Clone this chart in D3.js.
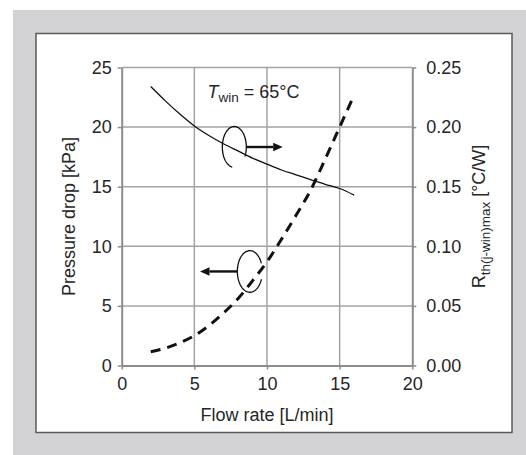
<!DOCTYPE html>
<html>
<head>
<meta charset="utf-8">
<script src="https://cdn.jsdelivr.net/npm/d3@7"></script>
<style>
  html, body { margin: 0; padding: 0; background: #ffffff; }
  svg { display: block; font-family: "Liberation Sans", Arial, sans-serif; }
</style>
</head>
<body>
<svg id="chart" width="526" height="455"></svg>
<script>
// Flow rate [L/min]
const flowRate = [2, 3, 4, 5, 6, 7, 8, 9, 10, 11, 12, 13, 14, 15, 16];
// Pressure drop [kPa] (left axis, dashed)
const pressureDrop = [1.15, 1.45, 1.9, 2.5, 3.35, 4.4, 5.6, 7.1, 8.7, 10.6, 12.6, 14.7, 17.3, 20.0, 22.7];
// Thermal resistance Rth(j-win)max [°C/W] (right axis, solid)
const rthMax = [0.234, 0.222, 0.211, 0.201, 0.193, 0.186, 0.180, 0.174, 0.169, 0.164, 0.160, 0.156, 0.152, 0.1485, 0.143];

const xTicks = [0, 5, 10, 15, 20];
const leftTicks = [0, 5, 10, 15, 20, 25];
const rightTicks = [0, 0.05, 0.10, 0.15, 0.20, 0.25];

const svg = d3.select("#chart");
const W = 526, H = 455;

// backdrop panel and framed figure box
svg.append("rect").attr("x", 13).attr("y", 10).attr("width", W - 13).attr("height", H - 10).attr("fill", "#d3d3d5");
svg.append("rect").attr("x", 36).attr("y", 33.5).attr("width", 476).attr("height", 399)
  .attr("fill", "#ffffff").attr("stroke", "#5a5a5a").attr("stroke-width", 1.5);

const plot = { left: 121.7, right: 412.3, top: 67.5, bottom: 365.5 };

const x = d3.scaleLinear().domain([0, 20]).range([plot.left, plot.right]);
const yL = d3.scaleLinear().domain([0, 25]).range([plot.bottom, plot.top]);
const yR = d3.scaleLinear().domain([0, 0.25]).range([plot.bottom, plot.top]);

const gridColor = "#a3a3a3";
const axisColor = "#8c8c8c";
const textColor = "#262626";
const fs = 18;

// gridlines
const grid = svg.append("g");
grid.selectAll("line.v").data(xTicks.filter(d => d > 0 && d < 20)).join("line")
  .attr("x1", d => x(d)).attr("x2", d => x(d))
  .attr("y1", yL(0)).attr("y2", yL(25))
  .attr("stroke", gridColor).attr("stroke-width", 1.5);
grid.selectAll("line.h").data(leftTicks.filter(d => d > 0)).join("line")
  .attr("x1", x(0)).attr("x2", x(20))
  .attr("y1", d => yL(d)).attr("y2", d => yL(d))
  .attr("stroke", gridColor).attr("stroke-width", 1.5);

function styleAxis(g) {
  g.select(".domain").attr("stroke", axisColor).attr("stroke-width", 2);
  g.selectAll(".tick line").attr("stroke", axisColor).attr("stroke-width", 1.5);
  g.selectAll(".tick text").attr("fill", textColor).attr("font-size", fs);
}

svg.append("g").attr("transform", `translate(0,${plot.bottom})`)
  .call(d3.axisBottom(x).tickValues(xTicks).tickSize(4).tickSizeOuter(0).tickPadding(8))
  .call(styleAxis);
svg.append("g").attr("transform", `translate(${plot.left},0)`)
  .call(d3.axisLeft(yL).tickValues(leftTicks).tickSize(4).tickSizeOuter(0).tickPadding(6))
  .call(styleAxis);
svg.append("g").attr("transform", `translate(${plot.right},0)`)
  .call(d3.axisRight(yR).tickValues(rightTicks).tickFormat(d3.format(".2f")).tickSize(4).tickSizeOuter(0).tickPadding(10))
  .call(styleAxis);

// axis titles
svg.append("text").attr("x", (plot.left + plot.right) / 2).attr("y", 421)
  .attr("text-anchor", "middle").attr("font-size", fs).attr("fill", textColor)
  .text("Flow rate [L/min]");
svg.append("text").attr("transform", `translate(75,${(plot.top + plot.bottom) / 2}) rotate(-90)`)
  .attr("text-anchor", "middle").attr("font-size", fs).attr("fill", textColor)
  .text("Pressure drop [kPa]");
const rt = svg.append("text").attr("transform", `translate(485,${(plot.top + plot.bottom) / 2}) rotate(-90)`)
  .attr("text-anchor", "middle").attr("font-size", fs).attr("fill", textColor);
rt.append("tspan").text("R");
rt.append("tspan").attr("font-size", 13.5).attr("dy", 4.5).text("th(j-win)max");
rt.append("tspan").attr("dy", -4.5).text(" [°C/W]");

// curves
const pts = flowRate.map((f, i) => ({ f, p: pressureDrop[i], r: rthMax[i] }));
svg.append("path").datum(pts)
  .attr("d", d3.line().x(d => x(d.f)).y(d => yR(d.r)).curve(d3.curveMonotoneX))
  .attr("fill", "none").attr("stroke", "#111").attr("stroke-width", 1.3);
svg.append("path").datum(pts)
  .attr("d", d3.line().x(d => x(d.f)).y(d => yL(d.p)).curve(d3.curveMonotoneX))
  .attr("fill", "none").attr("stroke", "#111").attr("stroke-width", 3)
  .attr("stroke-dasharray", "10,7");

// annotation: condition
const ann = svg.append("text").attr("x", 207.5).attr("y", 97.5).attr("font-size", fs).attr("fill", textColor);
ann.append("tspan").attr("font-style", "italic").text("T");
ann.append("tspan").attr("font-size", 13.5).attr("dy", 4.5).text("win");
ann.append("tspan").attr("dy", -4.5).text(" = 65°C");

// loop markers pointing each curve to its axis (centre in data units, radii/gaps in px and degrees)
const loops = [
  { cx: 7.75, cy: 18.33, rx: 12, ry: 20.5, gapFrom: 30, gapTo: 100, tip: 11.08, side: 1 },
  { cx: 8.82, cy: 7.89, rx: 12.5, ry: 20.8, gapFrom: -22, gapTo: 22, tip: 5.39, side: -1 }
];
const loopLine = d3.line().curve(d3.curveLinear);
loops.forEach(l => {
  const cx = x(l.cx), cy = yL(l.cy);
  const pts = [];
  for (let a = l.gapTo; a <= l.gapFrom + 360; a += 3) {
    const t = a * Math.PI / 180;
    pts.push([cx + l.rx * Math.cos(t), cy + l.ry * Math.sin(t)]);
  }
  svg.append("path").attr("d", loopLine(pts)).attr("fill", "none")
    .attr("stroke", "#111").attr("stroke-width", 1.3);
  const x0 = cx + l.side * l.rx, x1 = x(l.tip);
  const head = 9.5, hw = 4.3;
  svg.append("line").attr("x1", x0).attr("x2", x1 - l.side * head)
    .attr("y1", cy).attr("y2", cy).attr("stroke", "#111").attr("stroke-width", 2.4);
  svg.append("path")
    .attr("d", `M${x1},${cy}L${x1 - l.side * head},${cy - hw}L${x1 - l.side * head},${cy + hw}Z`)
    .attr("fill", "#111");
});
</script>
</body>
</html>
